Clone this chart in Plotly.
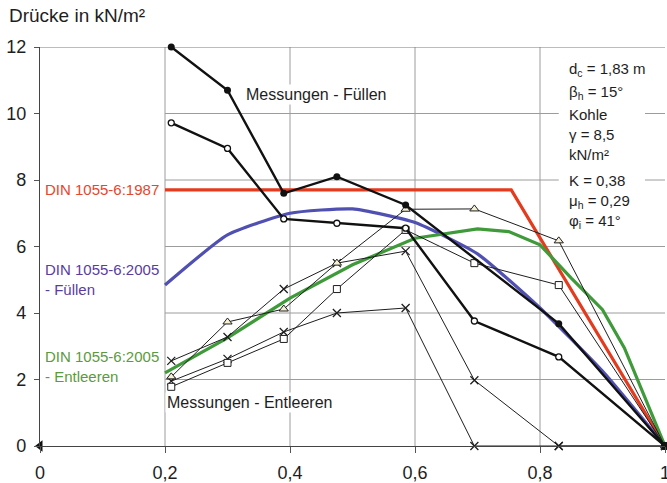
import plotly.graph_objects as go

# Relative silo height x / h_h and wall pressures in kN/m²
x_meas = [0.21, 0.30, 0.39, 0.475, 0.585, 0.695, 0.83, 1.0]
x_fill_solid = [0.21, 0.30, 0.39, 0.475, 0.585, 0.83, 1.0]

fill_solid = [12.0, 10.7, 7.6, 8.1, 7.25, 3.68, 0.0]
fill_open = [9.72, 8.95, 6.83, 6.7, 6.55, 3.76, 2.68, 0.0]

empty_square = [1.78, 2.5, 3.22, 4.72, 6.5, 5.5, 4.84, 0.0]
empty_triangle = [2.08, 3.73, 4.12, 5.5, 7.12, 7.13, 6.17, 0.0]
empty_cross_a = [2.56, 3.28, 4.72, 5.5, 5.86, 1.98, 0.0, 0.0]
empty_cross_b = [1.95, 2.62, 3.43, 4.0, 4.15, 0.0, 0.0, 0.0]

x_din1987 = [0.2, 0.754, 1.0]
din1987 = [7.7, 7.7, 0.0]

x_din2005_fill = [0.2, 0.3, 0.4, 0.5, 0.6, 0.7, 0.8, 0.9, 1.0]
din2005_fill = [4.84, 6.35, 7.0, 7.13, 6.72, 5.78, 4.15, 2.25, 0.0]

x_din2005_empty = [0.2, 0.3, 0.4, 0.5, 0.6, 0.7, 0.75, 0.8, 0.85, 0.9, 0.935, 1.0]
din2005_empty = [2.2, 3.25, 4.45, 5.45, 6.25, 6.53, 6.45, 6.05, 5.05, 4.1, 2.95, 0.0]

x_ticks = [0, 0.2, 0.4, 0.6, 0.8, 1.0]
x_ticktext = ["0", "0,2", "0,4", "0,6", "0,8", "1"]
y_ticks = [0, 2, 4, 6, 8, 10, 12]

info_lines = [
    "d<sub>c</sub> = 1,83 m",
    "β<sub>h</sub> = 15°",
    "Kohle",
    "γ = 8,5",
    "kN/m²",
    "K = 0,38",
    "μ<sub>h</sub> = 0,29",
    "φ<sub>i</sub> = 41°",
]
info_y = [11.31, 10.62, 9.98, 9.38, 8.78, 8.0, 7.34, 6.74]

FONT = "Liberation Sans, Arial, sans-serif"
RED = "#e43a1e"
BLUE = "#5050b2"
GREEN = "#3f9a3a"
INK = "#1e1e1e"
GRID = "#9c9c9c"

fig = go.Figure()

# Standard curves
fig.add_trace(go.Scatter(x=x_din1987, y=din1987, mode="lines",
                         line=dict(color=RED, width=3.2), cliponaxis=False))
fig.add_trace(go.Scatter(x=x_din2005_fill, y=din2005_fill, mode="lines",
                         line=dict(color=BLUE, width=3.2, shape="spline", smoothing=0.5),
                         cliponaxis=False))
fig.add_trace(go.Scatter(x=x_din2005_empty, y=din2005_empty, mode="lines",
                         line=dict(color=GREEN, width=3.2), cliponaxis=False))

# Measurements during discharge (thin lines)
thin = dict(color=INK, width=1)
fig.add_trace(go.Scatter(x=x_meas, y=empty_cross_b, mode="lines+markers", line=thin,
                         marker=dict(symbol="x-thin-open", size=8, line=dict(color=INK, width=1.3)),
                         cliponaxis=False))
fig.add_trace(go.Scatter(x=x_meas, y=empty_cross_a, mode="lines+markers", line=thin,
                         marker=dict(symbol="x-thin-open", size=8, line=dict(color=INK, width=1.3)),
                         cliponaxis=False))
fig.add_trace(go.Scatter(x=x_meas, y=empty_square, mode="lines+markers", line=thin,
                         marker=dict(symbol="square", size=7, color="white",
                                     line=dict(color=INK, width=1)),
                         cliponaxis=False))
fig.add_trace(go.Scatter(x=x_meas, y=empty_triangle, mode="lines+markers", line=thin,
                         marker=dict(symbol="triangle-up", size=8, color="#f6f1d2",
                                     line=dict(color=INK, width=1)),
                         cliponaxis=False))

# Measurements during filling (thick lines)
fig.add_trace(go.Scatter(x=x_meas, y=fill_open, mode="lines+markers",
                         line=dict(color="#111111", width=2.4),
                         marker=dict(symbol="circle", size=6, color="white",
                                     line=dict(color="#111111", width=1.3)),
                         cliponaxis=False))
fig.add_trace(go.Scatter(x=x_fill_solid, y=fill_solid, mode="lines+markers",
                         line=dict(color="#111111", width=2.4),
                         marker=dict(symbol="circle", size=7, color="#111111"),
                         cliponaxis=False))

# Marker sitting at the origin
fig.add_trace(go.Scatter(x=[0], y=[0], mode="markers",
                         marker=dict(symbol="triangle-left", size=10, color="#111111"),
                         cliponaxis=False))

# Grid lines and frame
shapes = []
for yv in [2, 4, 6, 8, 10]:
    shapes.append(dict(type="line", xref="x", yref="y", x0=0.2, x1=1.0, y0=yv, y1=yv,
                       line=dict(color=GRID, width=1), layer="below"))
for xv in [0.2, 0.4, 0.6, 0.8]:
    shapes.append(dict(type="line", xref="x", yref="y", x0=xv, x1=xv, y0=0, y1=12,
                       line=dict(color=GRID, width=1), layer="below"))
shapes.append(dict(type="line", xref="x", yref="y", x0=0, x1=1.0, y0=12, y1=12,
                   line=dict(color="#7a7a7a", width=1.2), layer="below"))
# White panel behind the parameter list
shapes.append(dict(type="rect", xref="x", yref="y", x0=0.83, x1=0.968, y0=6.38, y1=11.75,
                   fillcolor="white", line=dict(width=0), layer="below"))

annotations = []
annotations.append(dict(text="Drücke in kN/m²", xref="paper", yref="paper",
                        x=-0.053, y=1.08, xanchor="left", yanchor="middle", showarrow=False,
                        font=dict(family=FONT, size=19, color=INK)))
annotations.append(dict(text="x / h<sub>h</sub>", xref="x", yref="y", x=0.865, y=-0.75,
                        xanchor="left", yanchor="middle", showarrow=False,
                        font=dict(family=FONT, size=18, color=INK)))
annotations.append(dict(text="DIN 1055-6:1987", xref="x", yref="y", x=0.004, y=7.7,
                        xanchor="left", yanchor="middle", showarrow=False,
                        font=dict(family=FONT, size=15, color="#e8452c")))
annotations.append(dict(text="DIN 1055-6:2005", xref="x", yref="y", x=0.004, y=5.3,
                        xanchor="left", yanchor="middle", showarrow=False,
                        font=dict(family=FONT, size=15, color="#5a3c9e")))
annotations.append(dict(text="- Füllen", xref="x", yref="y", x=0.004, y=4.7,
                        xanchor="left", yanchor="middle", showarrow=False,
                        font=dict(family=FONT, size=15, color="#5a3c9e")))
annotations.append(dict(text="DIN 1055-6:2005", xref="x", yref="y", x=0.004, y=2.68,
                        xanchor="left", yanchor="middle", showarrow=False,
                        font=dict(family=FONT, size=15, color="#5c9a40")))
annotations.append(dict(text="- Entleeren", xref="x", yref="y", x=0.004, y=2.08,
                        xanchor="left", yanchor="middle", showarrow=False,
                        font=dict(family=FONT, size=15, color="#5c9a40")))
annotations.append(dict(text="Messungen - Füllen", xref="x", yref="y", x=0.326, y=10.56,
                        xanchor="left", yanchor="middle", showarrow=False, bgcolor="white",
                        font=dict(family=FONT, size=16, color=INK)))
annotations.append(dict(text="Messungen - Entleeren", xref="x", yref="y", x=0.2, y=1.32,
                        xanchor="left", yanchor="middle", showarrow=False, bgcolor="white",
                        font=dict(family=FONT, size=16, color=INK)))
for txt, yv in zip(info_lines, info_y):
    annotations.append(dict(text=txt, xref="x", yref="y", x=0.843, y=yv,
                            xanchor="left", yanchor="middle", showarrow=False,
                            font=dict(family=FONT, size=15, color=INK)))

fig.update_layout(
    width=667, height=483,
    margin=dict(l=40, r=2, t=47, b=37, autoexpand=False),
    paper_bgcolor="white", plot_bgcolor="white",
    showlegend=False,
    shapes=shapes,
    annotations=annotations,
    font=dict(family=FONT, color=INK),
    xaxis=dict(range=[0, 1], tickvals=x_ticks, ticktext=x_ticktext,
               showgrid=False, zeroline=False, showline=True, linecolor="#444444",
               linewidth=1.2, ticks="outside", ticklen=6, tickcolor="#555555",
               automargin=False, ticklabeloverflow="allow", ticklabelstandoff=4,
               tickfont=dict(family=FONT, size=18, color=INK)),
    yaxis=dict(range=[0, 12], tickvals=y_ticks,
               showgrid=False, zeroline=False, showline=True, linecolor="#444444",
               linewidth=1.2, ticks="outside", ticklen=5, tickcolor="#555555",
               automargin=False, ticklabelstandoff=4,
               tickfont=dict(family=FONT, size=18, color=INK)),
)

fig.write_html("out.html")
